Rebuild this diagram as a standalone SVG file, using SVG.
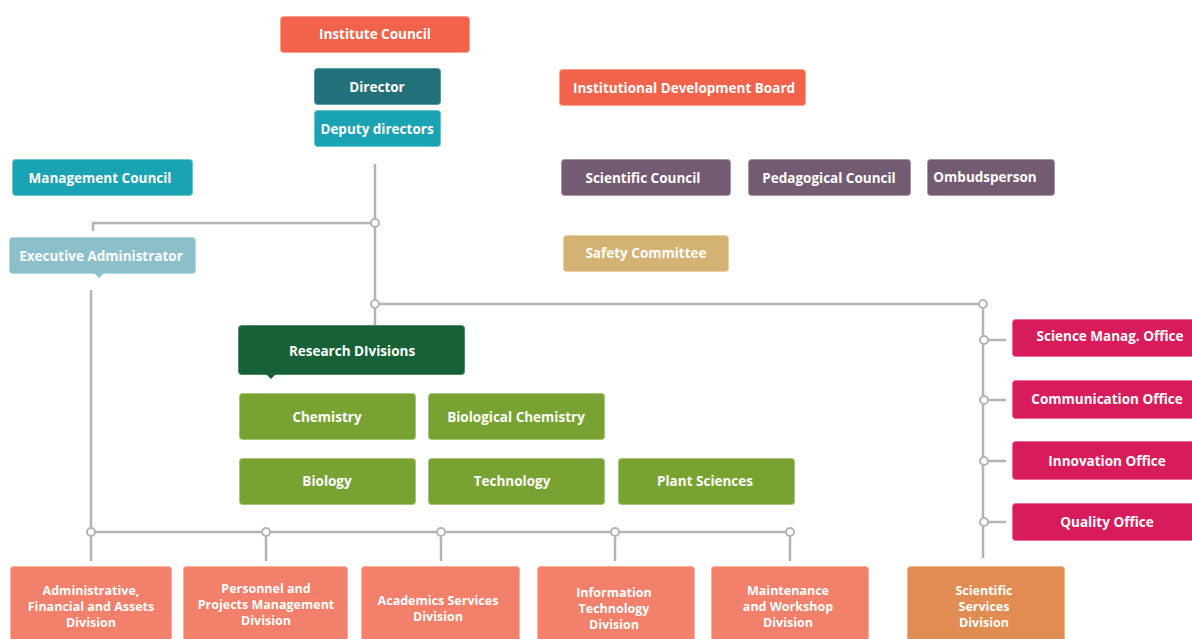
<svg xmlns="http://www.w3.org/2000/svg" width="1192" height="639" viewBox="0 0 1192 639">
<style>
.t{font-family:"Open Sans","Liberation Sans",sans-serif;font-weight:700;fill:#ffffff;text-anchor:middle;dominant-baseline:central;font-size:13.5px}
.s{font-size:12.5px}
.ln{stroke:#b3b4b6;stroke-width:2.5;fill:none}
.dot{fill:#ffffff;stroke:#b3b4b6;stroke-width:2}
.red{fill:#f2634c;stroke:#f7a293;stroke-width:1}
.dteal{fill:#22717a;stroke:#5c9aa0;stroke-width:1}
.teal{fill:#1aa3b3;stroke:#6cc4ce;stroke-width:1}
.purp{fill:#735c72;stroke:#a898a7;stroke-width:1}
.sand{fill:#d4b274;stroke:#e5d0a8;stroke-width:1}
.ltb{fill:#8bc0cb;stroke:#b8d9df;stroke-width:1}
.dgreen{fill:#166135;stroke:#4f8a65;stroke-width:1}
.green{fill:#78a232;stroke:#a8c47a;stroke-width:1}
.pink{fill:#d81b5b;stroke:#e87098;stroke-width:1}
.sal{fill:#f2806a;stroke:#f7b0a2;stroke-width:1}
.org{fill:#e08c52;stroke:#ecb890;stroke-width:1}
</style>
<g id="connectors">
<path class="ln" d="M375 164 V325"/>
<path class="ln" d="M375 223 H93 V231"/>
<path class="ln" d="M375 304 H983 V558"/>
<path class="ln" d="M984 340 H1006 M984 400 H1006 M984 461 H1006 M984 522 H1006"/>
<path class="ln" d="M91 290 V561"/>
<path class="ln" d="M91 532 H790"/>
<path class="ln" d="M266 532 V561 M441 532 V561 M615 532 V561 M790 532 V561"/>
<circle class="dot" cx="375" cy="223" r="4"/>
<circle class="dot" cx="375" cy="304" r="4"/>
<circle class="dot" cx="983" cy="304" r="4"/>
<circle class="dot" cx="984" cy="340" r="4"/>
<circle class="dot" cx="984" cy="400" r="4"/>
<circle class="dot" cx="984" cy="461" r="4"/>
<circle class="dot" cx="984" cy="522" r="4"/>
<circle class="dot" cx="91" cy="532" r="4"/>
<circle class="dot" cx="266" cy="532" r="4"/>
<circle class="dot" cx="441" cy="532" r="4"/>
<circle class="dot" cx="615" cy="532" r="4"/>
<circle class="dot" cx="790" cy="532" r="4"/>
</g>
<g id="institute-council"><rect class="red" x="280.5" y="16.5" width="189" height="36" rx="3"/><text class="t" x="375" y="34">Institute Council</text></g>
<g id="director"><rect class="dteal" x="314.5" y="68.5" width="126" height="36" rx="3"/><text class="t" x="377" y="87">Director</text></g>
<g id="deputy-directors"><rect class="teal" x="314.5" y="110.5" width="126" height="36" rx="3"/><text class="t" x="377" y="129">Deputy directors</text></g>
<g id="management-council"><rect class="teal" x="12.5" y="159.5" width="180" height="36" rx="3"/><text class="t" x="100" y="178">Management Council</text></g>
<g id="institutional-development-board"><rect class="red" x="559.5" y="69.5" width="246" height="36" rx="3"/><text class="t" x="684" y="88">Institutional Development Board</text></g>
<g id="scientific-council"><rect class="purp" x="561.5" y="159.5" width="169" height="36" rx="3"/><text class="t" x="643" y="178">Scientific Council</text></g>
<g id="pedagogical-council"><rect class="purp" x="748.5" y="159.5" width="162" height="36" rx="3"/><text class="t" x="829" y="178">Pedagogical Council</text></g>
<g id="ombudsperson"><rect class="purp" x="927.5" y="159.5" width="127" height="36" rx="3"/><text class="t" x="985" y="177">Ombudsperson</text></g>
<g id="safety-committee"><rect class="sand" x="563.5" y="235.5" width="165" height="36" rx="3"/><text class="t" x="646" y="253">Safety Committee</text></g>
<g id="executive-administrator"><rect class="ltb" x="9.5" y="237.5" width="186" height="36" rx="3"/><path d="M94 273 L99 278 L104 273 Z" fill="#8bc0cb"/><text class="t" x="101" y="256">Executive Administrator</text></g>
<g id="research-divisions"><rect class="dgreen" x="238.5" y="325.5" width="226" height="49" rx="3"/><path d="M266 374 L271 379 L276 374 Z" fill="#166135"/><text class="t" x="352" y="351">Research DIvisions</text></g>
<g id="chemistry"><rect class="green" x="239.5" y="393.5" width="176" height="46" rx="3"/><text class="t" x="327" y="417">Chemistry</text></g>
<g id="biological-chemistry"><rect class="green" x="428.5" y="393.5" width="176" height="46" rx="3"/><text class="t" x="516" y="417">Biological Chemistry</text></g>
<g id="biology"><rect class="green" x="239.5" y="458.5" width="176" height="46" rx="3"/><text class="t" x="327" y="481">Biology</text></g>
<g id="technology"><rect class="green" x="428.5" y="458.5" width="176" height="46" rx="3"/><text class="t" x="512" y="481">Technology</text></g>
<g id="plant-sciences"><rect class="green" x="618.5" y="458.5" width="176" height="46" rx="3"/><text class="t" x="705" y="481">Plant Sciences</text></g>
<g id="science-manag-office"><rect class="pink" x="1012.5" y="319.5" width="190" height="37" rx="3"/><text class="t" x="1110" y="336">Science Manag. Office</text></g>
<g id="communication-office"><rect class="pink" x="1012.5" y="380.5" width="190" height="38" rx="3"/><text class="t" x="1107" y="399">Communication Office</text></g>
<g id="innovation-office"><rect class="pink" x="1012.5" y="441.5" width="190" height="38" rx="3"/><text class="t" x="1107" y="461">Innovation Office</text></g>
<g id="quality-office"><rect class="pink" x="1012.5" y="503.5" width="190" height="37" rx="3"/><text class="t" x="1107" y="522">Quality Office</text></g>
<g id="admin-division"><rect class="sal" x="10.5" y="566.5" width="161" height="80" rx="3"/><text class="t s" x="91"><tspan x="91" y="590">Administrative,</tspan><tspan x="91" y="606">Financial and Assets</tspan><tspan x="91" y="622">Division</tspan></text></g>
<g id="personnel-division"><rect class="sal" x="183.5" y="566.5" width="164" height="80" rx="3"/><text class="t s" x="266"><tspan x="266" y="588">Personnel and</tspan><tspan x="266" y="604">Projects Management</tspan><tspan x="266" y="620">Division</tspan></text></g>
<g id="academics-division"><rect class="sal" x="361.5" y="566.5" width="158" height="80" rx="3"/><text class="t s" x="438"><tspan x="438" y="600">Academics Services</tspan><tspan x="438" y="616">Division</tspan></text></g>
<g id="it-division"><rect class="sal" x="537.5" y="566.5" width="157" height="80" rx="3"/><text class="t s" x="614"><tspan x="614" y="592">Information</tspan><tspan x="614" y="608">Technology</tspan><tspan x="614" y="624">Division</tspan></text></g>
<g id="maintenance-division"><rect class="sal" x="711.5" y="566.5" width="157" height="80" rx="3"/><text class="t s" x="788"><tspan x="788" y="590">Maintenance</tspan><tspan x="788" y="606">and Workshop</tspan><tspan x="788" y="622">Division</tspan></text></g>
<g id="scientific-services-division"><rect class="org" x="907.5" y="566.5" width="157" height="80" rx="3"/><text class="t s" x="984"><tspan x="984" y="590">Scientific</tspan><tspan x="984" y="606">Services</tspan><tspan x="984" y="622">Division</tspan></text></g>
</svg>
